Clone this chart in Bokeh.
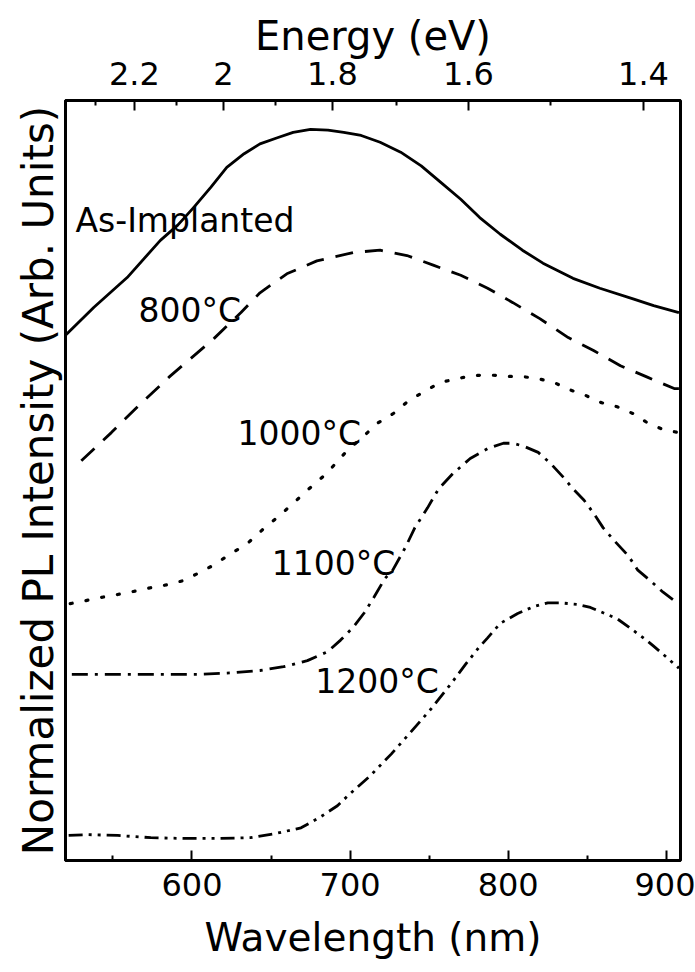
from bokeh.plotting import figure
from bokeh.models import Range1d, LinearAxis, FixedTicker, CustomJSTickFormatter, Label
from bokeh.embed import file_html
from bokeh.resources import INLINE

FONT = "DejaVu Sans"

# ---- data (wavelength nm, normalized PL + offset) ----
asimp_wl = [520, 538, 559, 580, 591, 601, 612, 622, 633, 643, 654, 664, 675, 686, 696, 707,
            719, 732, 745, 757, 770, 782, 795, 809, 822, 841, 858, 879, 892, 908]
asimp_pl = [6.91, 7.28, 7.67, 8.16, 8.36, 8.59, 8.86, 9.12, 9.30, 9.43, 9.51, 9.58, 9.62, 9.61,
            9.58, 9.54, 9.45, 9.32, 9.14, 8.93, 8.70, 8.46, 8.24, 8.03, 7.86, 7.66, 7.53, 7.39,
            7.30, 7.21]

a800_wl = [530, 549, 567, 586, 614, 631, 643, 660, 679, 702, 719, 736, 753, 770, 787, 803,
           820, 838, 854, 871, 888, 905, 908]
a800_pl = [5.26, 5.63, 6.00, 6.37, 6.87, 7.21, 7.47, 7.72, 7.89, 8.00, 8.03, 7.96, 7.83, 7.70,
           7.53, 7.34, 7.13, 6.88, 6.71, 6.51, 6.36, 6.21, 6.21]

a1000_wl = [523, 533, 542, 553, 563, 574, 585, 594, 604, 614, 624, 635, 645, 655, 664, 674,
            685, 698, 708, 717, 728, 737, 747, 757, 768, 777, 788, 798, 808, 819, 829, 838,
            848, 858, 869, 879, 888, 898, 908]
a1000_pl = [3.38, 3.42, 3.46, 3.50, 3.54, 3.59, 3.63, 3.68, 3.78, 3.89, 4.03, 4.17, 4.36, 4.53,
            4.70, 4.89, 5.09, 5.39, 5.57, 5.75, 5.89, 6.05, 6.17, 6.29, 6.34, 6.38, 6.39, 6.37,
            6.37, 6.34, 6.29, 6.20, 6.13, 6.03, 5.97, 5.88, 5.76, 5.67, 5.63]

a1100_wl = [524, 542, 563, 585, 605, 626, 643, 658, 673, 686, 694, 702, 709, 715, 722, 727,
            735, 741, 749, 756, 765, 776, 787, 797, 803, 810, 819, 827, 835, 841, 848, 854,
            860, 867, 876, 882, 890, 898, 907]
a1100_pl = [2.45, 2.45, 2.45, 2.45, 2.45, 2.47, 2.50, 2.55, 2.63, 2.75, 2.90, 3.07, 3.26, 3.46,
            3.71, 3.82, 4.12, 4.38, 4.64, 4.89, 5.09, 5.29, 5.42, 5.49, 5.49, 5.45, 5.37, 5.22,
            5.04, 4.89, 4.74, 4.57, 4.38, 4.21, 4.01, 3.82, 3.68, 3.53, 3.39]

a1200_wl = [522, 534, 553, 574, 595, 616, 637, 654, 669, 681, 692, 699, 713, 726, 738, 751,
            764, 773, 781, 787, 795, 806, 816, 825, 833, 844, 852, 860, 869, 879, 888, 892,
            901, 908]
a1200_pl = [0.33, 0.34, 0.33, 0.30, 0.29, 0.29, 0.30, 0.36, 0.43, 0.57, 0.72, 0.86, 1.12, 1.40,
            1.68, 1.99, 2.33, 2.58, 2.79, 2.93, 3.12, 3.25, 3.34, 3.39, 3.39, 3.37, 3.33, 3.26,
            3.18, 3.03, 2.89, 2.82, 2.66, 2.53]

curve_labels = ["As-Implanted", "800\u00b0C", "1000\u00b0C", "1100\u00b0C", "1200\u00b0C"]

x_ticks = [600, 700, 800, 900]
x_minor = [550, 650, 750, 850]
energy_ticks = [2.2, 2.0, 1.8, 1.6, 1.4]
energy_minor = [2.3, 2.1, 1.9, 1.7, 1.5]
HC = 1239.84  # eV*nm

p = figure(width=695, height=972, output_backend="svg", toolbar_location=None,
           x_range=Range1d(520, 909), y_range=Range1d(0, 10),
           min_border_left=65, min_border_right=15, min_border_top=100, min_border_bottom=112)
p.background_fill_color = "white"
p.border_fill_color = "white"
p.xgrid.visible = False
p.ygrid.visible = False
p.outline_line_color = "black"
p.outline_line_width = 3

# bottom axis
xa = p.xaxis[0]
xa.ticker = FixedTicker(ticks=x_ticks, minor_ticks=x_minor)
xa.axis_label = "Wavelength (nm)"
# left axis
ya = p.yaxis[0]
ya.ticker = FixedTicker(ticks=[])
ya.axis_label = "Normalized PL Intensity (Arb. Units)"

# top axis (energy)
ta = LinearAxis(ticker=FixedTicker(ticks=[HC / e for e in energy_ticks],
                                   minor_ticks=[HC / e for e in energy_minor]),
                formatter=CustomJSTickFormatter(code="return String(Math.round(12398.4/tick)/10);"),
                axis_label="Energy (eV)")
p.add_layout(ta, "above")

for ax in [xa, ya, ta]:
    ax.axis_line_width = 3
    ax.axis_line_color = "black"
    ax.major_tick_in = 10
    ax.major_tick_out = 0
    ax.minor_tick_in = 5
    ax.minor_tick_out = 0
    ax.major_tick_line_width = 2
    ax.minor_tick_line_width = 2
    ax.major_tick_line_color = "black"
    ax.minor_tick_line_color = "black"
    ax.major_label_text_font = FONT
    ax.major_label_text_font_size = "32px"
    ax.major_label_text_color = "black"
    ax.axis_label_text_font = FONT
    ax.axis_label_text_font_style = "normal"
    ax.axis_label_text_color = "black"

xa.axis_label_text_font_size = "39px"
ta.axis_label_text_font_size = "40px"
ya.axis_label_text_font_size = "42px"
xa.major_label_standoff = 12
xa.axis_label_standoff = 16
ta.major_label_standoff = 16
ta.axis_label_standoff = 0
ya.axis_label_standoff = 3
ya.major_label_standoff = 0

lw = 2.8
p.line(asimp_wl, asimp_pl, line_color="black", line_width=lw)
p.line(a800_wl, a800_pl, line_color="black", line_width=lw, line_dash="18 12")
p.line(a1000_wl, a1000_pl, line_color="black", line_width=3.2, line_dash="2 14", line_cap="round")
p.line(a1100_wl, a1100_pl, line_color="black", line_width=lw, line_dash="16 7 3 7")
p.line(a1200_wl, a1200_pl, line_color="black", line_width=lw, line_dash="14 6 3 6 3 6")

label_pos = [(526.3, 8.42), (566.2, 7.24), (628.8, 5.62), (650.5, 3.91), (678.0, 2.36)]
for (lx, ly), txt in zip(label_pos, curve_labels):
    p.add_layout(Label(x=lx, y=ly, text=txt, text_font=FONT, text_font_size="33px",
                       text_color="black", text_baseline="alphabetic", text_align="left"))

open("out.html", "w").write(file_html(p, INLINE))
